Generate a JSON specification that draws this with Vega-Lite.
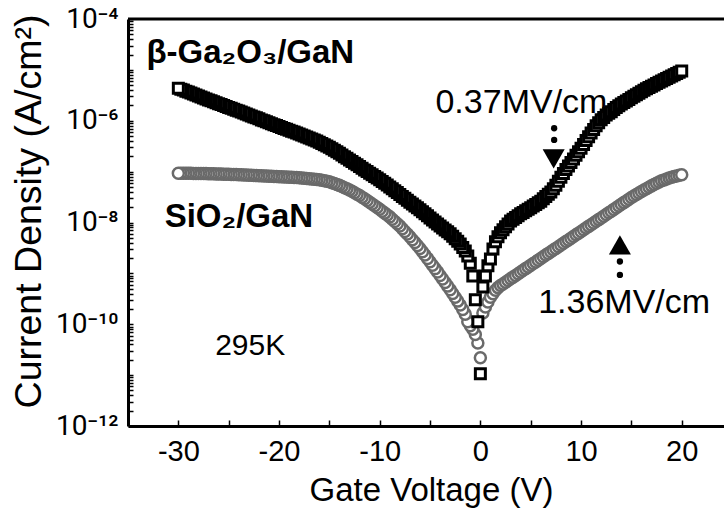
{
"$schema": "https://vega.github.io/schema/vega-lite/v6.json",
"width": 596, "height": 407,
"autosize": {"type": "none"},
"padding": {"left": 128, "top": 19, "right": 0, "bottom": 86},
"background": "white",
"config": {
  "font": "Liberation Sans",
  "view": {"stroke": null},
  "axis": {"labelColor": "black", "titleColor": "black", "tickColor": "black", "domainColor": "black", "grid": false, "labelFlush": false, "labelOverlap": false, "labelBound": false}
},
"datasets": {
"g": [
{"v":0,"j":2.19e-11},{"v":-0.25,"j":4.27e-11},{"v":-0.5,"j":6.31e-11},{"v":-0.75,"j":7.94e-11},{"v":-1,"j":9.33e-11},{"v":-1.25,"j":1.12e-10},{"v":-1.5,"j":1.58e-10},{"v":-1.75,"j":1.95e-10},{"v":-2,"j":2.40e-10},{"v":-2.25,"j":2.85e-10},{"v":-2.5,"j":3.39e-10},{"v":-2.75,"j":4.03e-10},{"v":-3,"j":4.79e-10},{"v":-3.25,"j":5.62e-10},{"v":-3.5,"j":6.61e-10},{"v":-3.75,"j":7.76e-10},{"v":-4,"j":9.12e-10},{"v":-4.25,"j":1.07e-9},{"v":-4.5,"j":1.24e-9},{"v":-4.75,"j":1.45e-9},{"v":-5,"j":1.70e-9},{"v":-5.25,"j":1.97e-9},{"v":-5.5,"j":2.29e-9},{"v":-5.75,"j":2.66e-9},{"v":-6,"j":3.09e-9},{"v":-6.25,"j":3.53e-9},{"v":-6.5,"j":4.03e-9},{"v":-6.75,"j":4.60e-9},{"v":-7,"j":5.25e-9},{"v":-7.25,"j":5.92e-9},{"v":-7.5,"j":6.68e-9},{"v":-7.75,"j":7.54e-9},{"v":-8,"j":8.51e-9},{"v":-8.25,"j":9.44e-9},{"v":-8.5,"j":1.05e-8},{"v":-8.75,"j":1.16e-8},{"v":-9,"j":1.29e-8},{"v":-9.25,"j":1.40e-8},{"v":-9.5,"j":1.53e-8},{"v":-9.75,"j":1.67e-8},{"v":-10,"j":1.82e-8},{"v":-10.25,"j":1.97e-8},{"v":-10.5,"j":2.14e-8},{"v":-10.75,"j":2.32e-8},{"v":-11,"j":2.51e-8},{"v":-11.25,"j":2.71e-8},{"v":-11.5,"j":2.92e-8},{"v":-11.75,"j":3.14e-8},{"v":-12,"j":3.39e-8},{"v":-12.25,"j":3.61e-8},{"v":-12.5,"j":3.85e-8},{"v":-12.75,"j":4.10e-8},{"v":-13,"j":4.37e-8},{"v":-13.25,"j":4.60e-8},{"v":-13.5,"j":4.84e-8},{"v":-13.75,"j":5.10e-8},{"v":-14,"j":5.37e-8},{"v":-14.25,"j":5.59e-8},{"v":-14.5,"j":5.82e-8},{"v":-14.75,"j":6.06e-8},{"v":-15,"j":6.31e-8},{"v":-15.25,"j":6.46e-8},{"v":-15.5,"j":6.61e-8},{"v":-15.75,"j":6.76e-8},{"v":-16,"j":6.92e-8},{"v":-16.25,"j":7.00e-8},{"v":-16.5,"j":7.08e-8},{"v":-16.75,"j":7.16e-8},{"v":-17,"j":7.24e-8},{"v":-17.25,"j":7.33e-8},{"v":-17.5,"j":7.41e-8},{"v":-17.75,"j":7.50e-8},{"v":-18,"j":7.59e-8},{"v":-18.25,"j":7.63e-8},{"v":-18.5,"j":7.67e-8},{"v":-18.75,"j":7.72e-8},{"v":-19,"j":7.76e-8},{"v":-19.25,"j":7.81e-8},{"v":-19.5,"j":7.85e-8},{"v":-19.75,"j":7.90e-8},{"v":-20,"j":7.94e-8},{"v":-20.25,"j":7.99e-8},{"v":-20.5,"j":8.04e-8},{"v":-20.75,"j":8.08e-8},{"v":-21,"j":8.13e-8},{"v":-21.25,"j":8.18e-8},{"v":-21.5,"j":8.22e-8},{"v":-21.75,"j":8.27e-8},{"v":-22,"j":8.32e-8},{"v":-22.25,"j":8.36e-8},{"v":-22.5,"j":8.41e-8},{"v":-22.75,"j":8.46e-8},{"v":-23,"j":8.51e-8},{"v":-23.25,"j":8.56e-8},{"v":-23.5,"j":8.61e-8},{"v":-23.75,"j":8.66e-8},{"v":-24,"j":8.71e-8},{"v":-24.25,"j":8.75e-8},{"v":-24.5,"j":8.77e-8},{"v":-24.75,"j":8.81e-8},{"v":-25,"j":8.85e-8},{"v":-25.25,"j":8.87e-8},{"v":-25.5,"j":8.91e-8},{"v":-25.75,"j":8.96e-8},{"v":-26,"j":8.98e-8},{"v":-26.25,"j":9.02e-8},{"v":-26.5,"j":9.06e-8},{"v":-26.75,"j":9.08e-8},{"v":-27,"j":9.12e-8},{"v":-27.25,"j":9.14e-8},{"v":-27.5,"j":9.16e-8},{"v":-27.75,"j":9.16e-8},{"v":-28,"j":9.18e-8},{"v":-28.25,"j":9.20e-8},{"v":-28.5,"j":9.23e-8},{"v":-28.75,"j":9.25e-8},{"v":-29,"j":9.27e-8},{"v":-29.25,"j":9.27e-8},{"v":-29.5,"j":9.29e-8},{"v":-29.75,"j":9.31e-8},{"v":-30,"j":9.33e-8},
{"v":0.25,"j":1.66e-10},{"v":0.5,"j":2.19e-10},{"v":0.75,"j":2.75e-10},{"v":1,"j":3.39e-10},{"v":1.25,"j":3.98e-10},{"v":1.5,"j":4.68e-10},{"v":1.75,"j":5.25e-10},{"v":2,"j":5.75e-10},{"v":2.25,"j":6.21e-10},{"v":2.5,"j":6.71e-10},{"v":2.75,"j":7.24e-10},{"v":3,"j":7.82e-10},{"v":3.25,"j":8.44e-10},{"v":3.5,"j":9.11e-10},{"v":3.75,"j":9.84e-10},{"v":4,"j":1.06e-9},{"v":4.25,"j":1.15e-9},{"v":4.5,"j":1.24e-9},{"v":4.75,"j":1.34e-9},{"v":5,"j":1.44e-9},{"v":5.25,"j":1.56e-9},{"v":5.5,"j":1.68e-9},{"v":5.75,"j":1.82e-9},{"v":6,"j":1.96e-9},{"v":6.25,"j":2.12e-9},{"v":6.5,"j":2.29e-9},{"v":6.75,"j":2.47e-9},{"v":7,"j":2.66e-9},{"v":7.25,"j":2.88e-9},{"v":7.5,"j":3.10e-9},{"v":7.75,"j":3.35e-9},{"v":8,"j":3.62e-9},{"v":8.25,"j":3.91e-9},{"v":8.5,"j":4.22e-9},{"v":8.75,"j":4.55e-9},{"v":9,"j":4.92e-9},{"v":9.25,"j":5.31e-9},{"v":9.5,"j":5.73e-9},{"v":9.75,"j":6.18e-9},{"v":10,"j":6.68e-9},{"v":10.25,"j":7.21e-9},{"v":10.5,"j":7.78e-9},{"v":10.75,"j":8.40e-9},{"v":11,"j":9.07e-9},{"v":11.25,"j":9.79e-9},{"v":11.5,"j":1.06e-8},{"v":11.75,"j":1.14e-8},{"v":12,"j":1.23e-8},{"v":12.25,"j":1.33e-8},{"v":12.5,"j":1.44e-8},{"v":12.75,"j":1.55e-8},{"v":13,"j":1.67e-8},{"v":13.25,"j":1.81e-8},{"v":13.5,"j":1.95e-8},{"v":13.75,"j":2.11e-8},{"v":14,"j":2.28e-8},{"v":14.25,"j":2.46e-8},{"v":14.5,"j":2.65e-8},{"v":14.75,"j":2.86e-8},{"v":15,"j":3.09e-8},{"v":15.25,"j":3.31e-8},{"v":15.5,"j":3.55e-8},{"v":15.75,"j":3.80e-8},{"v":16,"j":4.07e-8},{"v":16.25,"j":4.34e-8},{"v":16.5,"j":4.62e-8},{"v":16.75,"j":4.93e-8},{"v":17,"j":5.25e-8},{"v":17.25,"j":5.56e-8},{"v":17.5,"j":5.89e-8},{"v":17.75,"j":6.24e-8},{"v":18,"j":6.61e-8},{"v":18.25,"j":6.88e-8},{"v":18.5,"j":7.16e-8},{"v":18.75,"j":7.46e-8},{"v":19,"j":7.76e-8},{"v":19.25,"j":7.99e-8},{"v":19.5,"j":8.22e-8},{"v":19.75,"j":8.46e-8},{"v":20,"j":8.71e-8}
],
"b": [
{"v":0,"j":1.07e-11},{"v":-0.25,"j":1.12e-10},{"v":-0.5,"j":3.02e-10},{"v":-0.75,"j":8.91e-10},{"v":-1,"j":1.58e-9},{"v":-1.25,"j":2.19e-9},{"v":-1.5,"j":2.75e-9},{"v":-1.75,"j":3.24e-9},{"v":-2,"j":3.80e-9},{"v":-2.25,"j":4.27e-9},{"v":-2.5,"j":4.79e-9},{"v":-2.75,"j":5.37e-9},{"v":-3,"j":6.03e-9},{"v":-3.25,"j":6.57e-9},{"v":-3.5,"j":7.16e-9},{"v":-3.75,"j":7.80e-9},{"v":-4,"j":8.51e-9},{"v":-4.25,"j":9.33e-9},{"v":-4.5,"j":1.02e-8},{"v":-4.75,"j":1.12e-8},{"v":-5,"j":1.23e-8},{"v":-5.25,"j":1.35e-8},{"v":-5.5,"j":1.48e-8},{"v":-5.75,"j":1.62e-8},{"v":-6,"j":1.78e-8},{"v":-6.25,"j":1.94e-8},{"v":-6.5,"j":2.11e-8},{"v":-6.75,"j":2.30e-8},{"v":-7,"j":2.51e-8},{"v":-7.25,"j":2.74e-8},{"v":-7.5,"j":2.99e-8},{"v":-7.75,"j":3.25e-8},{"v":-8,"j":3.55e-8},{"v":-8.25,"j":3.87e-8},{"v":-8.5,"j":4.22e-8},{"v":-8.75,"j":4.60e-8},{"v":-9,"j":5.01e-8},{"v":-9.25,"j":5.43e-8},{"v":-9.5,"j":5.89e-8},{"v":-9.75,"j":6.38e-8},{"v":-10,"j":6.92e-8},{"v":-10.25,"j":7.46e-8},{"v":-10.5,"j":8.04e-8},{"v":-10.75,"j":8.66e-8},{"v":-11,"j":9.33e-8},{"v":-11.25,"j":1.01e-7},{"v":-11.5,"j":1.08e-7},{"v":-11.75,"j":1.17e-7},{"v":-12,"j":1.26e-7},{"v":-12.25,"j":1.36e-7},{"v":-12.5,"j":1.46e-7},{"v":-12.75,"j":1.58e-7},{"v":-13,"j":1.70e-7},{"v":-13.25,"j":1.83e-7},{"v":-13.5,"j":1.97e-7},{"v":-13.75,"j":2.13e-7},{"v":-14,"j":2.29e-7},{"v":-14.25,"j":2.45e-7},{"v":-14.5,"j":2.63e-7},{"v":-14.75,"j":2.82e-7},{"v":-15,"j":3.02e-7},{"v":-15.25,"j":3.20e-7},{"v":-15.5,"j":3.39e-7},{"v":-15.75,"j":3.59e-7},{"v":-16,"j":3.80e-7},{"v":-16.25,"j":3.98e-7},{"v":-16.5,"j":4.17e-7},{"v":-16.75,"j":4.37e-7},{"v":-17,"j":4.57e-7},{"v":-17.25,"j":4.79e-7},{"v":-17.5,"j":5.01e-7},{"v":-17.75,"j":5.25e-7},{"v":-18,"j":5.50e-7},{"v":-18.25,"j":5.73e-7},{"v":-18.5,"j":5.98e-7},{"v":-18.75,"j":6.24e-7},{"v":-19,"j":6.50e-7},{"v":-19.25,"j":6.79e-7},{"v":-19.5,"j":7.08e-7},{"v":-19.75,"j":7.38e-7},{"v":-20,"j":7.71e-7},{"v":-20.25,"j":8.04e-7},{"v":-20.5,"j":8.38e-7},{"v":-20.75,"j":8.75e-7},{"v":-21,"j":9.12e-7},{"v":-21.25,"j":9.53e-7},{"v":-21.5,"j":9.96e-7},{"v":-21.75,"j":1.04e-6},{"v":-22,"j":1.09e-6},{"v":-22.25,"j":1.14e-6},{"v":-22.5,"j":1.19e-6},{"v":-22.75,"j":1.24e-6},{"v":-23,"j":1.30e-6},{"v":-23.25,"j":1.36e-6},{"v":-23.5,"j":1.42e-6},{"v":-23.75,"j":1.48e-6},{"v":-24,"j":1.55e-6},{"v":-24.25,"j":1.61e-6},{"v":-24.5,"j":1.69e-6},{"v":-24.75,"j":1.76e-6},{"v":-25,"j":1.83e-6},{"v":-25.25,"j":1.91e-6},{"v":-25.5,"j":2.00e-6},{"v":-25.75,"j":2.08e-6},{"v":-26,"j":2.17e-6},{"v":-26.25,"j":2.26e-6},{"v":-26.5,"j":2.36e-6},{"v":-26.75,"j":2.47e-6},{"v":-27,"j":2.57e-6},{"v":-27.25,"j":2.69e-6},{"v":-27.5,"j":2.81e-6},{"v":-27.75,"j":2.93e-6},{"v":-28,"j":3.07e-6},{"v":-28.25,"j":3.21e-6},{"v":-28.5,"j":3.35e-6},{"v":-28.75,"j":3.50e-6},{"v":-29,"j":3.66e-6},{"v":-29.25,"j":3.82e-6},{"v":-29.5,"j":4.00e-6},{"v":-29.75,"j":4.18e-6},{"v":-30,"j":4.37e-6},
{"v":0.25,"j":5.37e-10},{"v":0.5,"j":8.91e-10},{"v":0.75,"j":1.41e-9},{"v":1,"j":1.91e-9},{"v":1.25,"j":3.02e-9},{"v":1.5,"j":4.17e-9},{"v":1.75,"j":5.25e-9},{"v":2,"j":6.31e-9},{"v":2.25,"j":7.20e-9},{"v":2.5,"j":8.22e-9},{"v":2.75,"j":9.39e-9},{"v":3,"j":1.07e-8},{"v":3.25,"j":1.16e-8},{"v":3.5,"j":1.26e-8},{"v":3.75,"j":1.36e-8},{"v":4,"j":1.48e-8},{"v":4.25,"j":1.58e-8},{"v":4.5,"j":1.70e-8},{"v":4.75,"j":1.82e-8},{"v":5,"j":1.95e-8},{"v":5.25,"j":2.10e-8},{"v":5.5,"j":2.26e-8},{"v":5.75,"j":2.44e-8},{"v":6,"j":2.63e-8},{"v":6.25,"j":2.92e-8},{"v":6.5,"j":3.24e-8},{"v":6.75,"j":3.59e-8},{"v":7,"j":3.98e-8},{"v":7.25,"j":4.62e-8},{"v":7.5,"j":5.37e-8},{"v":7.75,"j":6.46e-8},{"v":8,"j":7.76e-8},{"v":8.25,"j":9.23e-8},{"v":8.5,"j":1.10e-7},{"v":8.75,"j":1.29e-7},{"v":9,"j":1.51e-7},{"v":9.25,"j":1.78e-7},{"v":9.5,"j":2.09e-7},{"v":9.75,"j":2.45e-7},{"v":10,"j":2.88e-7},{"v":10.25,"j":3.43e-7},{"v":10.5,"j":4.07e-7},{"v":10.75,"j":4.84e-7},{"v":11,"j":5.75e-7},{"v":11.25,"j":6.76e-7},{"v":11.5,"j":7.94e-7},{"v":11.75,"j":9.12e-7},{"v":12,"j":1.05e-6},{"v":12.25,"j":1.16e-6},{"v":12.5,"j":1.29e-6},{"v":12.75,"j":1.40e-6},{"v":13,"j":1.51e-6},{"v":13.25,"j":1.66e-6},{"v":13.5,"j":1.82e-6},{"v":13.75,"j":1.97e-6},{"v":14,"j":2.14e-6},{"v":14.25,"j":2.29e-6},{"v":14.5,"j":2.45e-6},{"v":14.75,"j":2.63e-6},{"v":15,"j":2.82e-6},{"v":15.25,"j":3.02e-6},{"v":15.5,"j":3.24e-6},{"v":15.75,"j":3.47e-6},{"v":16,"j":3.72e-6},{"v":16.25,"j":3.98e-6},{"v":16.5,"j":4.27e-6},{"v":16.75,"j":4.52e-6},{"v":17,"j":4.79e-6},{"v":17.25,"j":5.07e-6},{"v":17.5,"j":5.37e-6},{"v":17.75,"j":5.69e-6},{"v":18,"j":6.03e-6},{"v":18.25,"j":6.38e-6},{"v":18.5,"j":6.76e-6},{"v":18.75,"j":7.16e-6},{"v":19,"j":7.59e-6},{"v":19.25,"j":8.04e-6},{"v":19.5,"j":8.51e-6},{"v":19.75,"j":9.02e-6},{"v":20,"j":9.55e-6}
],
"annb": [
{"v":-33.17,"j":1.37e-5,"t":"β-Ga₂O₃/GaN"},
{"v":-31.36,"j":8.32e-9,"t":"SiO₂/GaN"}
],
"annr": [
{"v":-4.46,"j":1.40e-6,"t":"0.37MV/cm"},
{"v":5.74,"j":1.65e-10,"t":"1.36MV/cm"}
],
"anns": [
{"v":-26.34,"j":2.51e-11,"t":"295K"}
],
"top": [{"v":-35,"v2":24.2,"j":1e-4}],
"tdown": [{"v":7.28,"j":1.78e-7}],
"tup": [{"v":13.86,"j":3.63e-9}],
"dots": [{"v":7.33,"j":7.13e-7},{"v":7.33,"j":4.20e-7},{"v":13.86,"j":1.71e-9},{"v":13.86,"j":9.33e-10}]
},
"encoding": {
  "x": {"field": "v", "type": "quantitative", "scale": {"domain": [-35, 24.2], "nice": false, "zero": false},
    "axis": {"orient": "bottom", "values": [-30,-25,-20,-15,-10,-5,0,5,10,15,20], "labelExpr": "datum.value % 10 == 0 ? '' + datum.value : ''", "tickSize": -6, "tickWidth": 1.5, "labelPadding": 17, "labelFontSize": 29, "domainWidth": 3, "title": "Gate Voltage (V)", "titleFontSize": 33, "titleFontWeight": "normal", "titleX": 303, "titleY": 74, "titleBaseline": "alphabetic", "titleAlign": "center"}},
  "y": {"field": "j", "type": "quantitative", "scale": {"type": "log", "domain": [1e-12, 1e-4], "nice": false},
    "axis": {"orient": "left", "values": [1e-12,2e-12,3e-12,4e-12,5e-12,6e-12,7e-12,8e-12,9e-12,1e-11,2e-11,3e-11,4e-11,5e-11,6e-11,7e-11,8e-11,9e-11,1e-10,2e-10,3e-10,4e-10,5e-10,6e-10,7e-10,8e-10,9e-10,1e-9,2e-9,3e-9,4e-9,5e-9,6e-9,7e-9,8e-9,9e-9,1e-8,2e-8,3e-8,4e-8,5e-8,6e-8,7e-8,8e-8,9e-8,1e-7,2e-7,3e-7,4e-7,5e-7,6e-7,7e-7,8e-7,9e-7,1e-6,2e-6,3e-6,4e-6,5e-6,6e-6,7e-6,8e-6,9e-6,1e-5,2e-5,3e-5,4e-5,5e-5,6e-5,7e-5,8e-5,9e-5,1e-4],
      "labelExpr": "datum.value == 1e-4 ? '10⁻⁴' : datum.value == 1e-6 ? '10⁻⁶' : datum.value == 1e-8 ? '10⁻⁸' : datum.value == 1e-10 ? '10⁻¹⁰' : datum.value == 1e-12 ? '10⁻¹²' : ''",
      "labelFont": "Roboto", "tickSize": -5, "tickWidth": 1.5, "labelPadding": 15, "labelFontSize": 28, "domainWidth": 3,
      "title": "Current Density (A/cm²)", "titleFontSize": 37.5, "titleFontWeight": "normal", "titleX": -88, "titleY": 192, "titleAngle": 270, "titleBaseline": "alphabetic", "titleAlign": "center"}}
},
"layer": [
  {
    "data": {"name": "g"},
    "mark": {"type": "point", "shape": "circle", "size": 121, "fill": "white", "stroke": "#6a6a6a", "strokeWidth": 2.5, "opacity": 1, "fillOpacity": 1, "strokeOpacity": 1}
  },
  {
    "data": {"name": "b"},
    "mark": {"type": "point", "shape": "square", "size": 100, "fill": "white", "stroke": "black", "strokeWidth": 3, "opacity": 1, "fillOpacity": 1, "strokeOpacity": 1}
  },
  {
    "data": {"name": "top"},
    "mark": {"type": "rule", "color": "black", "strokeWidth": 3},
    "encoding": {"x2": {"field": "v2"}}
  },
  {
    "data": {"name": "annb"},
    "mark": {"type": "text", "align": "left", "baseline": "alphabetic", "fontSize": 33, "fontWeight": "bold", "color": "black"},
    "encoding": {"text": {"field": "t"}}
  },
  {
    "data": {"name": "annr"},
    "mark": {"type": "text", "align": "left", "baseline": "alphabetic", "fontSize": 34, "color": "black"},
    "encoding": {"text": {"field": "t"}}
  },
  {
    "data": {"name": "anns"},
    "mark": {"type": "text", "align": "left", "baseline": "alphabetic", "fontSize": 30, "color": "black"},
    "encoding": {"text": {"field": "t"}}
  },
  {
    "data": {"name": "tdown"},
    "mark": {"type": "point", "shape": "triangle-down", "size": 484, "filled": true, "color": "black", "opacity": 1}
  },
  {
    "data": {"name": "tup"},
    "mark": {"type": "point", "shape": "triangle-up", "size": 484, "filled": true, "color": "black", "opacity": 1}
  },
  {
    "data": {"name": "dots"},
    "mark": {"type": "point", "shape": "circle", "size": 40, "filled": true, "color": "black", "opacity": 1}
  }
]
}
